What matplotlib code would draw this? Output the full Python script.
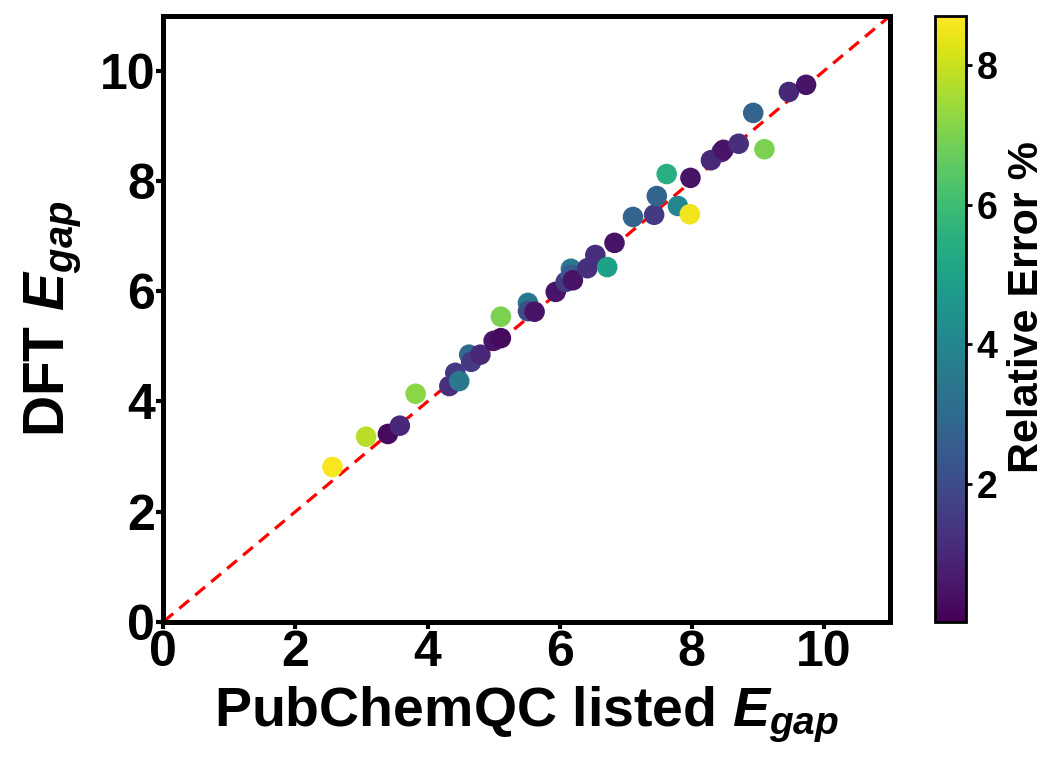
import numpy as np
import matplotlib
matplotlib.use('Agg')
import matplotlib.pyplot as plt

plt.rcParams['font.family'] = 'Liberation Sans'
plt.rcParams['font.weight'] = 'bold'
plt.rcParams['mathtext.fontset'] = 'custom'
plt.rcParams['mathtext.it'] = 'Liberation Sans:bold:italic'
plt.rcParams['mathtext.rm'] = 'Liberation Sans:bold'

# PubChemQC listed gap, DFT gap, relative error (%)
pubchem_gap = [2.56, 3.07, 3.40, 3.58, 3.82, 4.33, 4.42, 4.48, 4.63, 4.66,
               4.80, 5.00, 5.11, 5.11, 5.52, 5.52, 5.62, 5.94, 6.09, 6.17,
               6.17, 6.20, 6.42, 6.54, 6.72, 6.83, 7.11, 7.43, 7.47, 7.62,
               7.79, 7.97, 7.98, 8.29, 8.45, 8.48, 8.71, 8.93, 9.10, 9.47,
               9.73]
dft_gap = [2.81, 3.36, 3.41, 3.56, 4.14, 4.28, 4.52, 4.37, 4.85, 4.72,
           4.85, 5.10, 5.15, 5.54, 5.79, 5.64, 5.63, 5.99, 6.17, 6.41,
           6.30, 6.20, 6.42, 6.66, 6.44, 6.88, 7.35, 7.39, 7.73, 8.13,
           7.55, 7.40, 8.06, 8.38, 8.53, 8.57, 8.68, 9.24, 8.58, 9.62,
           9.75]
rel_error = [8.6, 7.8, 0.3, 1.0, 7.2, 1.2, 1.5, 3.5, 3.0, 1.5,
             1.0, 0.5, 0.3, 7.0, 3.5, 2.0, 0.5, 0.5, 1.5, 3.5,
             2.5, 0.5, 1.2, 1.2, 5.0, 0.5, 2.8, 1.5, 2.8, 5.5,
             4.0, 8.5, 0.5, 1.0, 1.0, 0.5, 1.2, 2.8, 7.0, 1.0,
             0.5]

fig = plt.figure(figsize=(10.47, 7.61), dpi=100)
ax = fig.add_axes([0.156, 0.183, 0.694, 0.796])
cax = fig.add_axes([0.893, 0.183, 0.030, 0.796])

sc = ax.scatter(pubchem_gap, dft_gap, c=rel_error, cmap='viridis',
                vmin=0.03, vmax=8.7, s=190, zorder=3)
ax.plot([0, 11], [0, 11], color='red', linestyle=(0, (4, 2.5)), linewidth=2.3, zorder=2)

ax.set_xlim(0, 11)
ax.set_ylim(0, 11)
ax.set_xticks([0, 2, 4, 6, 8, 10])
ax.set_yticks([0, 2, 4, 6, 8, 10])
ax.tick_params(labelsize=36, width=3, length=5, pad=1)
for s in ax.spines.values():
    s.set_linewidth(3.6)

ax.set_xlabel(r'PubChemQC listed $E_{gap}$', fontsize=40, fontweight='bold', labelpad=6)
ax.set_ylabel(r'DFT $E_{gap}$', fontsize=41, fontweight='bold', labelpad=12)

cb = fig.colorbar(sc, cax=cax)
cb.set_ticks([2, 4, 6, 8])
cb.ax.tick_params(labelsize=27, width=2, length=4)
cb.outline.set_linewidth(2)
cb.set_label('Relative Error %', fontsize=31, fontweight='bold')
cb.ax.yaxis.set_label_coords(2.3, 0.52)

fig.savefig('out.png', dpi=100)
